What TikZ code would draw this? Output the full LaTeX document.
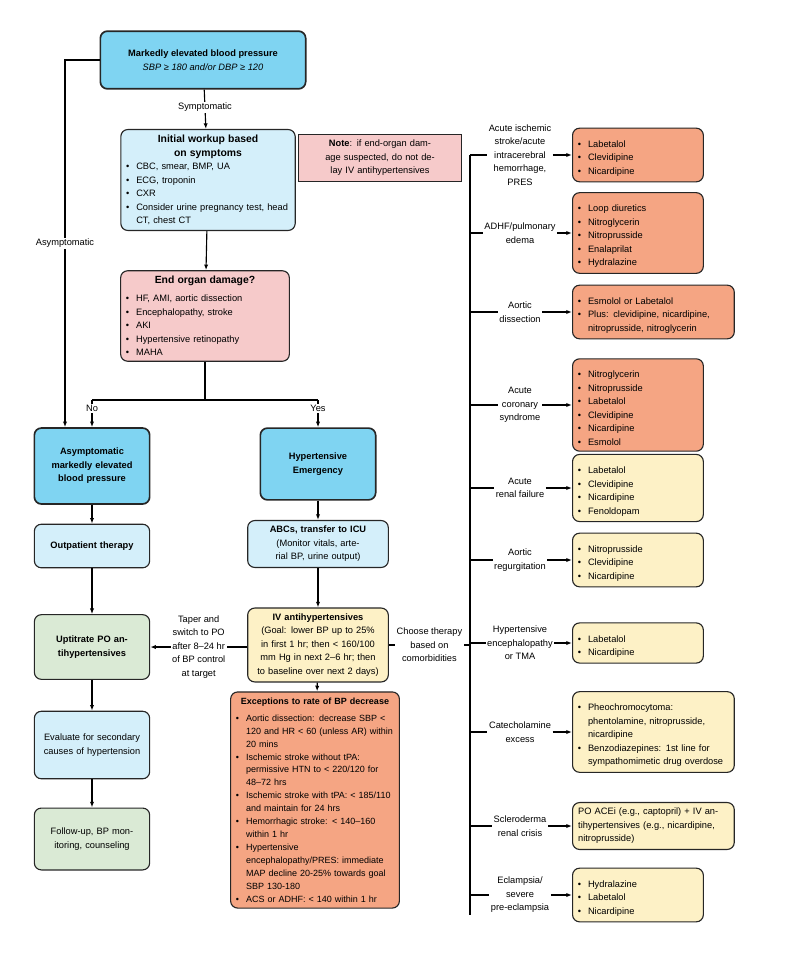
\documentclass[tikz,border=0pt]{standalone}
\usepackage{fontspec}
\setmainfont{Liberation Sans}
\usepackage{enumitem}
\setlist[itemize]{nosep,leftmargin=7pt,label=\textbullet}
\usetikzlibrary{arrows.meta}
\definecolor{hblue}{HTML}{7FD4F2}
\definecolor{lblue}{HTML}{D4EFFA}
\definecolor{hpink}{HTML}{F6CACA}
\definecolor{hsalmon}{HTML}{F5A583}
\definecolor{hyellow}{HTML}{FDF1C6}
\definecolor{hgreen}{HTML}{DAEAD5}
\newcommand{\lst}[1]{\begin{itemize}#1\end{itemize}}
\begin{document}
\begin{tikzpicture}[x=0.025cm,y=-0.025cm,
    font=\fontsize{6.6}{9.6}\selectfont,
    box/.style={draw=black!85,thick,rounded corners=5pt,align=left,inner sep=4pt},
    blu/.style={box,fill=hblue,very thick,align=center},
    lbl/.style={box,fill=lblue},
    pnk/.style={box,fill=hpink},
    sal/.style={box,fill=hsalmon},
    yel/.style={box,fill=hyellow},
    grn/.style={box,fill=hgreen,align=center},
    lab/.style={fill=white,align=center,inner sep=1pt},
    arr/.style={-{Latex[length=4pt]},thick}]
    \useasboundingbox (0,0) rectangle (792,960);

    % colonne de gauche
    \node[blu,minimum width=146pt,minimum height=41pt] (top) at (203,60)
        {\textbf{Markedly elevated blood pressure}\\ \textit{SBP ≥ 180 and/or DBP ≥ 120}};
    \node[lbl,text width=116pt] (work) at (208,180) {\centering\textbf{\fontsize{7.4}{9.6}\selectfont Initial workup based\\ on symptoms}\par
        \lst{\item CBC, smear, BMP, UA \item ECG, troponin \item CXR \item Consider urine pregnancy test, head CT, chest CT}};
    \node[pnk,text width=112pt] (eod) at (205,316) {\centering\textbf{\fontsize{7.4}{9.6}\selectfont End organ damage?}\par\smallskip
        \lst{\item HF, AMI, aortic dissection \item Encephalopathy, stroke \item AKI \item Hypertensive retinopathy \item MAHA}};
    \node[pnk,text width=108pt,align=center,rounded corners=0pt] (note) at (380,158)
        {\textbf{Note}: if end-organ damage suspected, do not delay IV antihypertensives};

    \node[blu,text width=74pt,minimum height=54pt] (asym) at (92,466)
        {\textbf{Asymptomatic markedly elevated blood pressure}};
    \node[blu,text width=74pt,minimum height=51pt] (emer) at (318,464) {\textbf{Hypertensive Emergency}};
    \node[lbl,align=center,text width=74pt,minimum height=31pt] (out) at (92,546) {\textbf{Outpatient therapy}};
    \node[lbl,align=center,text width=92pt] (abc) at (318,544)
        {\textbf{ABCs, transfer to ICU}\\(Monitor vitals, arterial BP, urine output)};
    \node[grn,text width=74pt,minimum height=46pt] (upt) at (92,647) {\textbf{Uptitrate PO antihypertensives}};
    \node[yel,align=center,text width=92pt] (iv) at (318,645)
        {\textbf{IV antihypertensives}\\(Goal: lower BP up to 25\% in first 1 hr; then < 160/100 mm Hg in next 2--6 hr; then to baseline over next 2 days)};
    \node[sal,text width=112pt,font=\fontsize{6.4}{9.2}\selectfont] (exc) at (315,800) {\centering\textbf{Exceptions to rate of BP decrease}\par\smallskip
        \lst{\item Aortic dissection: decrease SBP < 120 and HR < 60 (unless AR) within 20 mins
        \item Ischemic stroke without tPA: permissive HTN to < 220/120 for 48--72 hrs
        \item Ischemic stroke with tPA: < 185/110 and maintain for 24 hrs
        \item Hemorrhagic stroke: < 140--160 within 1 hr
        \item Hypertensive encephalopathy/PRES: immediate MAP decline 20-25\% towards goal SBP 130-180
        \item ACS or ADHF: < 140 within 1 hr}};
    \node[lbl,align=center,text width=74pt,minimum height=48pt] (eval) at (92,745)
        {Evaluate for secondary causes of hypertension};
    \node[grn,text width=74pt,minimum height=44pt] (fol) at (92,839) {Follow-up, BP monitoring, counseling};

    \coordinate (split) at (205,400);
    \coordinate (noC) at (92,400);
    \coordinate (yesC) at (318,400);
    \coordinate (asL) at (65,60);

    \draw[arr] (top) -- node[lab,pos=0.45]{Symptomatic} (work);
    \draw[arr] (work) -- (eod);
    \draw[thick] (eod) -- (split);
    \draw[thick] (noC) -- (yesC);
    \draw[arr] (noC) -- node[lab,pos=0.3]{No} (noC |- asym.north);
    \draw[arr] (yesC) -- node[lab,pos=0.3]{Yes} (emer);
    \draw[arr] (top.west) -- (asL) -- node[lab,pos=0.5]{Asymptomatic} (asL |- asym.north);
    \draw[arr] (asym) -- (out);
    \draw[arr] (out) -- (upt);
    \draw[arr] (upt) -- (eval);
    \draw[arr] (eval) -- (fol);
    \draw[arr] (emer) -- (abc);
    \draw[arr] (abc) -- (iv);
    \draw[arr] (iv) -- (exc);
    \draw[arr] (iv.west |- upt) -- node[lab,pos=0.5]{Taper and\\switch to PO\\after 8--24 hr\\of BP control\\at target} (upt);

    % colonne de droite
    \coordinate (trT) at (470,155);
    \coordinate (trB) at (470,915);
    \draw[thick] (trT) -- (trB);
    \draw[thick] (iv.east) -- node[lab,pos=0.5]{Choose therapy\\based on\\comorbidities} (iv.east -| trT);

    \foreach \nm/\yy/\sty/\bw/\lb/\tx in {
        r1/155/sal/85/{Acute ischemic\\stroke/acute\\intracerebral\\hemorrhage,\\PRES}/{\lst{\item Labetalol \item Clevidipine \item Nicardipine}},
        r2/233/sal/85/{ADHF/pulmonary\\edema}/{\lst{\item Loop diuretics \item Nitroglycerin \item Nitroprusside \item Enalaprilat \item Hydralazine}},
        r3/312/sal/107/{Aortic\\dissection}/{\lst{\item Esmolol or Labetalol \item Plus: clevidipine, nicardipine, nitroprusside, nitroglycerin}},
        r4/405/sal/85/{Acute\\coronary\\syndrome}/{\lst{\item Nitroglycerin \item Nitroprusside \item Labetalol \item Clevidipine \item Nicardipine \item Esmolol}},
        r5/488/yel/85/{Acute\\renal failure}/{\lst{\item Labetalol \item Clevidipine \item Nicardipine \item Fenoldopam}},
        r6/560/yel/85/{Aortic\\regurgitation}/{\lst{\item Nitroprusside \item Clevidipine \item Nicardipine}},
        r7/643/yel/85/{Hypertensive\\encephalopathy\\or TMA}/{\lst{\item Labetalol \item Nicardipine}},
        r8/732/yel/107/{Catecholamine\\excess}/{\lst{\item Pheochromocytoma: phentolamine, nitroprusside, nicardipine \item Benzodiazepines: 1st line for sympathomimetic drug overdose}},
        r9/826/yel/107/{Scleroderma\\renal crisis}/{PO ACEi (e.g., captopril) + IV antihypertensives (e.g., nicardipine, nitroprusside)},
        r10/895/yel/85/{Eclampsia/\\severe\\pre-eclampsia}/{\lst{\item Hydralazine \item Labetalol \item Nicardipine}}}
    {
        \node[\sty,anchor=west,text width=\bw pt] (\nm) at (572,\yy) {\tx};
        \node[lab] (\nm l) at (520,\yy) {\lb};
        \draw[thick] (470,\yy) -- (\nm l);
        \draw[arr] (\nm l) -- (\nm);
    }
\end{tikzpicture}
\end{document}
